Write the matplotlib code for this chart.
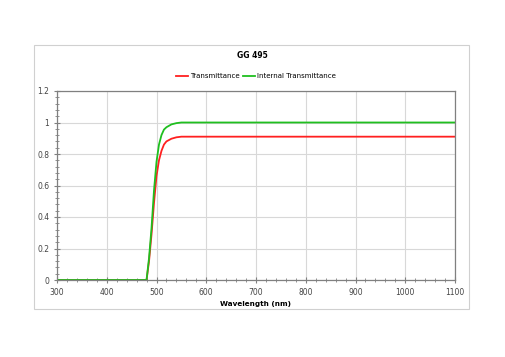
import numpy as np
import matplotlib
matplotlib.use("Agg")
import matplotlib.pyplot as plt
from matplotlib.patches import Rectangle
from matplotlib.ticker import MultipleLocator

wavelength = [300, 350, 400, 450, 475, 480, 485, 490, 495, 500, 505, 510, 515,
              520, 530, 540, 550, 560, 600, 700, 800, 900, 1000, 1100]
transmittance = [0, 0, 0, 0, 0, 0.0, 0.12, 0.29, 0.49, 0.66, 0.76, 0.82, 0.86,
                 0.88, 0.897, 0.906, 0.91, 0.91, 0.91, 0.91, 0.91, 0.91, 0.91, 0.91]
internal = [0, 0, 0, 0, 0, 0.0, 0.14, 0.33, 0.57, 0.75, 0.86, 0.92, 0.955,
            0.97, 0.988, 0.996, 1.0, 1.0, 1.0, 1.0, 1.0, 1.0, 1.0, 1.0]

plt.rcParams['font.family'] = ['DejaVu Sans']

fig = plt.figure(figsize=(5.05, 3.57), dpi=100)
fig.patches.append(Rectangle((34 / 505, 1 - 309 / 357), 435 / 505, 264 / 357,
                             transform=fig.transFigure, fill=False,
                             edgecolor='#d0d0d0', linewidth=0.8))

ax = fig.add_axes([57 / 505, 1 - 280 / 357, 398 / 505, 189 / 357])
ax.plot(wavelength, transmittance, color='#ff2020', linewidth=1.3, label='Transmittance')
ax.plot(wavelength, internal, color='#1fbf1f', linewidth=1.3, label='Internal Transmittance')

ax.set_xlim(300, 1100)
ax.set_ylim(0, 1.2)
ax.xaxis.set_major_locator(MultipleLocator(100))
ax.xaxis.set_minor_locator(MultipleLocator(20))
ax.yaxis.set_minor_locator(MultipleLocator(0.04))
ax.set_yticks(np.arange(0, 1.21, 0.2))
ax.set_yticklabels(['0', '0.2', '0.4', '0.6', '0.8', '1', '1.2'])
ax.grid(True, which='major', color='#d8d8d8', linewidth=0.8)
ax.set_axisbelow(True)
for s in ax.spines.values():
    s.set_color('#808080')
    s.set_linewidth(0.9)
ax.tick_params(which='both', colors='#808080', labelcolor='#444444', labelsize=5.5,
               direction='inout')
ax.tick_params(which='major', length=4)
ax.tick_params(which='minor', length=2.5)

ax.set_xlabel('Wavelength (nm)', fontsize=5.2, fontweight='bold', labelpad=3)
fig.text(252 / 505, 1 - 56 / 357, 'GG 495', ha='center', va='center',
         fontsize=5.5, fontweight='bold')
fig.legend(loc='center', bbox_to_anchor=(256 / 505, 1 - 76 / 357), ncol=2,
           frameon=False, fontsize=5, handlelength=1.8, columnspacing=0.4,
           handletextpad=0.3)

fig.savefig('out.png', dpi=100)
